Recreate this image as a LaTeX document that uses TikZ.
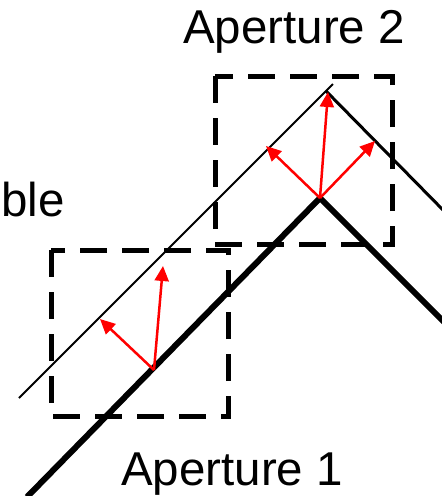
\documentclass[tikz,border=0pt]{standalone}
\usepackage{fontspec}
\setmainfont{Liberation Sans}
\usetikzlibrary{arrows.meta}
\begin{document}
\begin{tikzpicture}[x=1pt,y=-1pt,
  lbl/.style={inner sep=0pt,anchor=base west,font=\fontsize{47.5}{56}\selectfont},
  aperture/.style={line width=5pt,dash pattern=on 27pt off 15pt},
  surface/.style={line width=6pt},
  outer/.style={line width=1.8pt},
  outerr/.style={line width=3pt},
  ray/.style={red,line width=2.5pt,-{Triangle[length=15pt,width=14pt]}}]
\useasboundingbox (0,0) rectangle (442,496);
% labels
\node[lbl] (ap2) at (183,43) {Aperture 2};
\node[lbl] (ap1) at (121,485) {Aperture 1};
\node[lbl] (ble) at (1,216) {ble};
% coordinates
\coordinate (tA) at (27,497);
\coordinate (tP) at (320,198);
\coordinate (tB) at (445,323);
\coordinate (sA) at (19,398);
\coordinate (sP) at (326,91);
\coordinate (sX) at (333,84);
\coordinate (sB) at (445,212);
% thick surface
\draw[surface,line join=miter] (tA) -- (tP) -- (tB);
% thin outer line
\draw[outer] (sA) -- (sX);
\draw[outerr] (sP) -- (sB);
% dashed apertures
\draw[aperture] (51,250) rectangle (228,416);
\draw[aperture] (215,76) rectangle (392,244);
% rays aperture 2
\coordinate (r2) at (320,198);
\coordinate (r2a) at (266,146);
\coordinate (r2b) at (328,92);
\coordinate (r2c) at (375,141);
\draw[ray] (r2) -- (r2a);
\draw[ray] (r2) -- (r2b);
\draw[ray] (r2) -- (r2c);
% rays aperture 1
\coordinate (r1) at (154,370);
\coordinate (r1a) at (100,319);
\coordinate (r1b) at (163,266);
\draw[ray] (r1) -- (r1a);
\draw[ray] (r1) -- (r1b);
\end{tikzpicture}
\end{document}
